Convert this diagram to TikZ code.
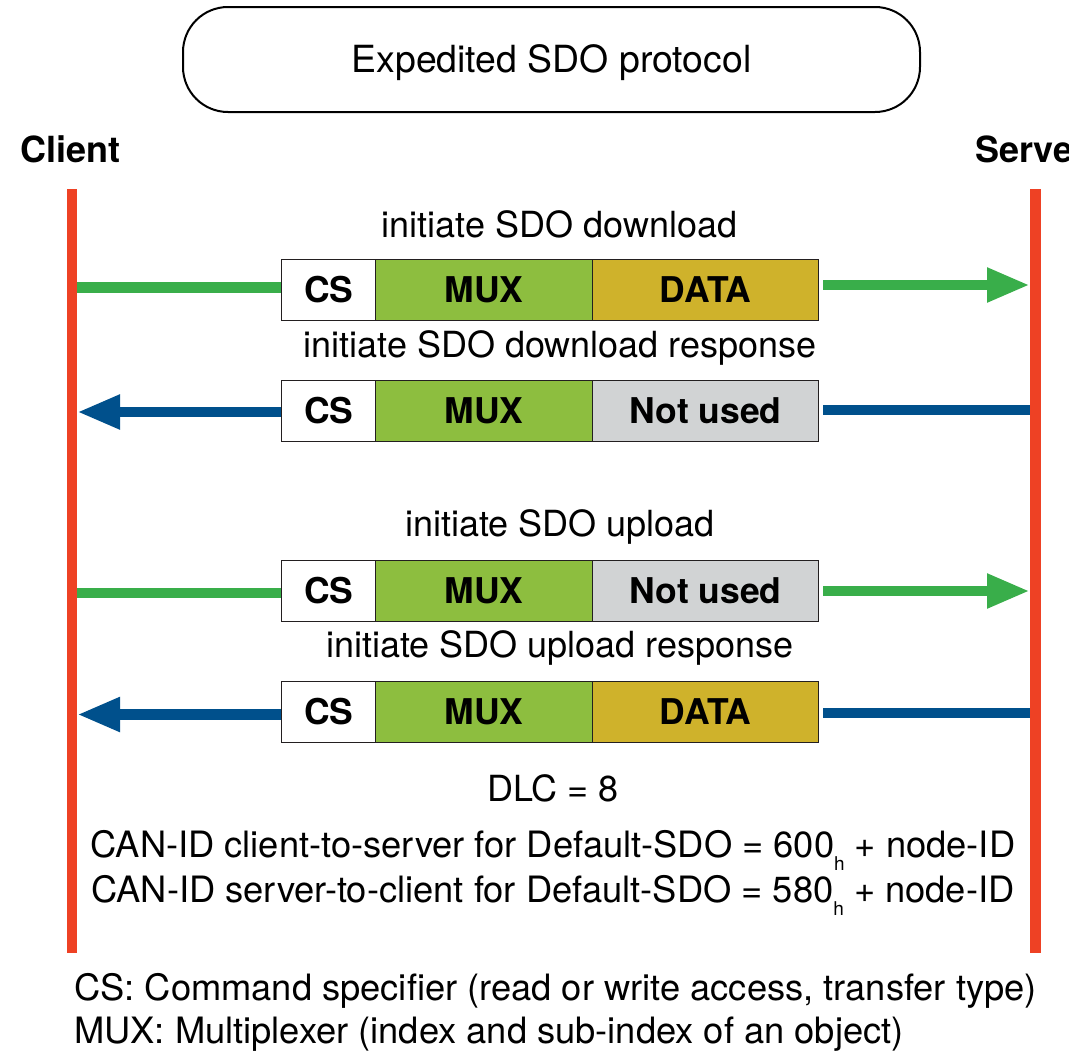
\documentclass[tikz,border=0pt]{standalone}
\usepackage{fontspec}
\setmainfont{TeX Gyre Heros}
\usetikzlibrary{arrows.meta}
\definecolor{lred}{HTML}{EE4124}
\definecolor{agreen}{HTML}{39AE4A}
\definecolor{muxgreen}{HTML}{8DBE3F}
\definecolor{datagold}{HTML}{CFB22B}
\definecolor{unusedgray}{HTML}{D1D3D4}
\definecolor{ablue}{HTML}{00508C}
\definecolor{edge}{HTML}{231F20}
\tikzset{
  txt/.style={font=\fontsize{36}{43}\selectfont, inner sep=0pt, anchor=base},
  note/.style={font=\fontsize{36.3}{43}\selectfont, inner sep=0pt, anchor=base},
  bold/.style={font=\fontsize{36}{43}\selectfont\bfseries, inner sep=0pt, anchor=base west},
  field/.style={draw=edge, line width=1.4pt, minimum height=60.5pt, anchor=north west,
    inner sep=0pt, font=\fontsize{35.5}{40}\selectfont\bfseries, text height=25.5pt, text depth=0pt},
  lifeline/.style={draw=lred, line width=10.6pt},
  gshaft/.style={draw=agreen, line width=10.7pt},
  bshaft/.style={draw=ablue, line width=10.7pt},
  gtip/.style={gshaft, -{Triangle[length=43pt, width=32pt]}},
  btip/.style={bshaft, -{Triangle[length=43pt, width=32pt]}},
}
\begin{document}
\begin{tikzpicture}[x=1pt, y=-1pt]
\useasboundingbox (0,0) rectangle (1069,1060);
\clip (0,0) rectangle (1069,1060);

% title
\node[draw=black, line width=2pt, rounded corners=45pt, minimum width=737pt, minimum height=105pt,
  inner sep=0pt, font=\fontsize{37.4}{43}\selectfont, text height=26.8pt, text depth=0pt]
  (title) at (551.5,59.5) {Expedited SDO protocol};

\node[bold] (client) at (20,162) {Client};
\node[bold] (server) at (975,162) {Server};

% lifelines
\coordinate (ctop) at (72,189);
\coordinate (cbot) at (72,953);
\coordinate (stop) at (1035.5,189);
\coordinate (sbot) at (1035.5,953);
\draw[lifeline] (ctop) -- (cbot);
\draw[lifeline] (stop) -- (sbot);

% row 1
\node[txt] (l1) at (559.5,237) {initiate SDO download};
\node[field, fill=white, minimum width=94pt] (cs1) at (281,259) {CS};
\node[field, fill=muxgreen, minimum width=217pt] (mux1) at (375,259) {MUX};
\node[field, fill=datagold, minimum width=226pt] (d1) at (592,259) {DATA};
\coordinate (c1) at (77,287.5);
\coordinate (s1) at (1030,285);
\draw[gshaft] (c1) -- (cs1.west |- c1);
\draw[gtip] ([xshift=4pt]d1.east |- s1) -- (s1);

% row 2
\node[txt] (l2) at (560,357) {initiate SDO download response};
\node[field, fill=white, minimum width=94pt] (cs2) at (281,380) {CS};
\node[field, fill=muxgreen, minimum width=217pt] (mux2) at (375,380) {MUX};
\node[field, fill=unusedgray, minimum width=226pt] (d2) at (592,380) {Not used};
\coordinate (c2) at (77,412);
\coordinate (s2) at (1030,410);
\draw[btip] (cs2.west |- c2) -- (c2);
\draw[bshaft] ([xshift=4pt]d2.east |- s2) -- (s2);

% row 3
\node[txt] (l3) at (560,536.7) {initiate SDO upload};
\node[field, fill=white, minimum width=94pt] (cs3) at (281,560) {CS};
\node[field, fill=muxgreen, minimum width=217pt] (mux3) at (375,560) {MUX};
\node[field, fill=unusedgray, minimum width=226pt] (d3) at (592,560) {Not used};
\coordinate (c3) at (77,593);
\coordinate (s3) at (1030,591);
\draw[gshaft] (c3) -- (cs3.west |- c3);
\draw[gtip] ([xshift=4pt]d3.east |- s3) -- (s3);

% row 4
\node[txt] (l4) at (560,657.7) {initiate SDO upload response};
\node[field, fill=white, minimum width=94pt] (cs4) at (281,681) {CS};
\node[field, fill=muxgreen, minimum width=217pt] (mux4) at (375,681) {MUX};
\node[field, fill=datagold, minimum width=226pt] (d4) at (592,681) {DATA};
\coordinate (c4) at (77,714.5);
\coordinate (s4) at (1030,713);
\draw[btip] (cs4.west |- c4) -- (c4);
\draw[bshaft] ([xshift=4pt]d4.east |- s4) -- (s4);

% notes
\node[txt] (dlc) at (553,801) {DLC = 8};
\node[note] (can1) at (553,857) {CAN-ID client-to-server for Default-SDO = 600\raisebox{-13pt}{\fontsize{19}{19}\selectfont h} + node-ID};
\node[note] (can2) at (553,902) {CAN-ID server-to-client for Default-SDO = 580\raisebox{-13pt}{\fontsize{19}{19}\selectfont h} + node-ID};
\node[note, anchor=base west] (f1) at (74,1000.7) {CS: Command specifier (read or write access, transfer type)};
\node[note, anchor=base west] (f2) at (74,1043) {MUX: Multiplexer (index and sub-index of an object)};
\end{tikzpicture}
\end{document}
